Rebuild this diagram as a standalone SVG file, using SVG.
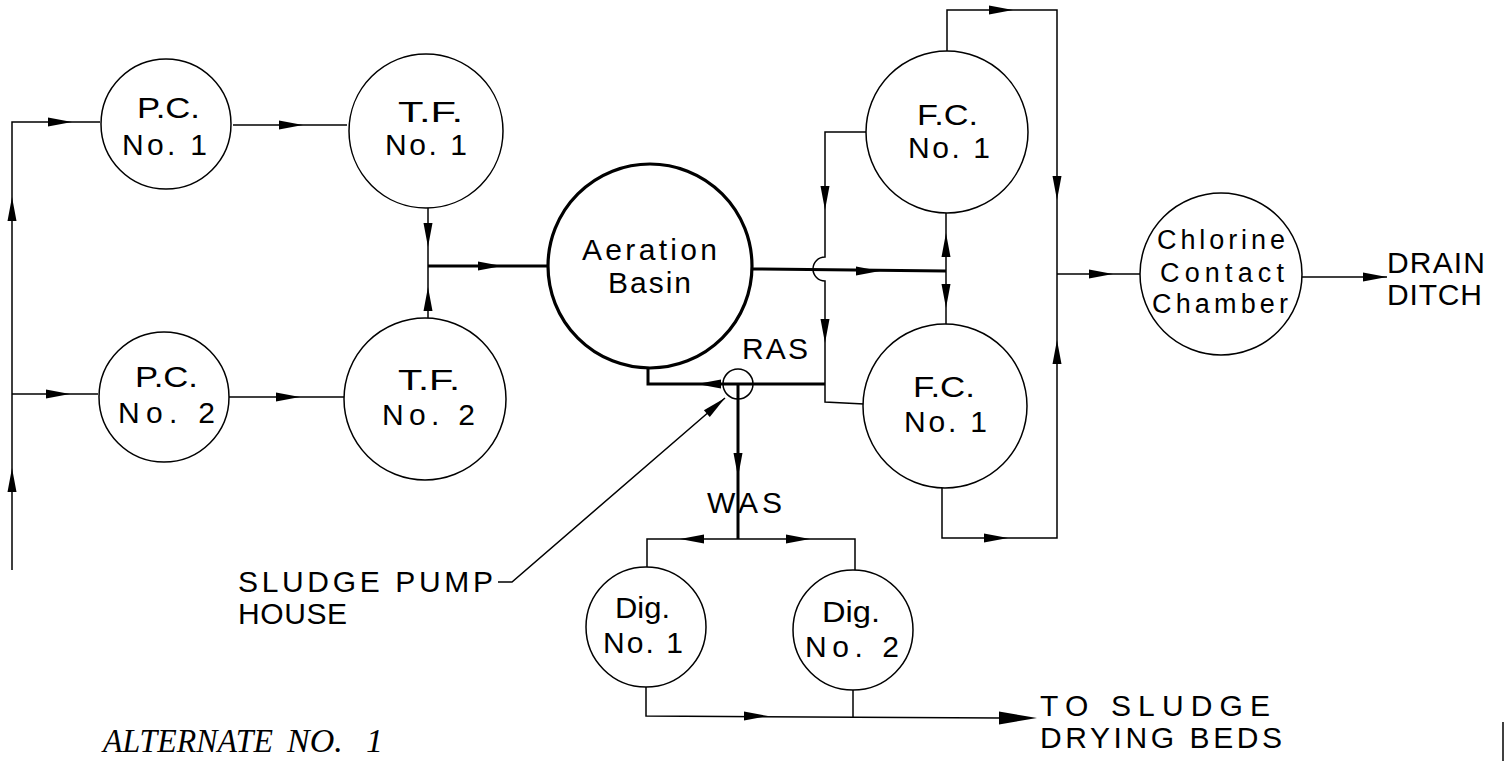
<svg xmlns="http://www.w3.org/2000/svg" xmlns:xlink="http://www.w3.org/1999/xlink" width="1505" height="761" viewBox="0 0 1505 761">
<style>
.ln{fill:none;stroke:#000;stroke-width:1.5;stroke-linejoin:miter}
.thk{stroke-width:3}
.nd{fill:#fff;stroke:#000;stroke-width:1.5}
.ndk{fill:#fff;stroke:#000;stroke-width:3.2}
.t{font-family:"Liberation Sans",Arial,sans-serif;font-size:30px;fill:#000}
.tc{font-family:"Liberation Sans",Arial,sans-serif;font-size:27px;fill:#000}
.ti{font-family:"Liberation Serif","Times New Roman",serif;font-style:italic;font-size:34px;fill:#000}
.ah{fill:#000;stroke:none}
</style>
<defs>
<path id="a" d="M0,0 L-24,-4.5 L-24,4.5 Z"/>
<path id="ab" d="M0,0 L-38,-6.5 L-38,6.5 Z"/>
</defs>
<rect width="1505" height="761" fill="#fff"/>
<g id="connectors">
<path class="ln" d="M12,570 L12,122 L100,122"/>
<path class="ln" d="M12,394 L98,394"/>
<path class="ln" d="M233,125 L347,125"/>
<path class="ln" d="M229,397 L344,397"/>
<path class="ln" d="M428,208 L428,318"/>
<path class="ln thk" d="M428,266 L548,266"/>
<path class="ln thk" d="M753,269 L946,271"/>
<path class="ln" d="M866,132 L825,132 L825,257 A12,12 0 0 0 825,281 L825,402 L864,404"/>
<path class="ln" d="M946,213 L946,325"/>
<path class="ln" d="M947,51 L947,10 L1057,10 L1057,538 L942,538 L942,488"/>
<path class="ln" d="M1057,274 L1140,274"/>
<path class="ln" d="M1302,277 L1387,277"/>
<path class="ln thk" d="M825,384 L648,384 L648,367"/>
<circle class="ln" cx="738" cy="384" r="15"/>
<path class="ln thk" d="M738,384 L738,539"/>
<path class="ln" d="M647,567 L647,539 L855,539 L855,570"/>
<path class="ln" d="M646,687 L646,716 L1000,718"/>
<path class="ln" d="M853,690 L853,717"/>
<path class="ln" d="M498,582 L512,582 L725,398"/>
<path class="ln" d="M1503,722 L1503,761"/>
<g class="ah">
<use xlink:href="#a" transform="translate(12,468) rotate(-90)"/>
<use xlink:href="#a" transform="translate(12,197) rotate(-90)"/>
<use xlink:href="#a" transform="translate(72,122)"/>
<use xlink:href="#a" transform="translate(70,394)"/>
<use xlink:href="#a" transform="translate(303,125)"/>
<use xlink:href="#a" transform="translate(300,397)"/>
<use xlink:href="#a" transform="translate(428,247) rotate(90)"/>
<use xlink:href="#a" transform="translate(428,287) rotate(-90)"/>
<use xlink:href="#a" transform="translate(502,266)"/>
<use xlink:href="#a" transform="translate(880,271)"/>
<use xlink:href="#a" transform="translate(825,210) rotate(90)"/>
<use xlink:href="#a" transform="translate(825,343) rotate(90)"/>
<use xlink:href="#a" transform="translate(946,233) rotate(-90)"/>
<use xlink:href="#a" transform="translate(946,308) rotate(90)"/>
<use xlink:href="#a" transform="translate(1013,10)"/>
<use xlink:href="#a" transform="translate(1057,200) rotate(90)"/>
<use xlink:href="#a" transform="translate(1008,538)"/>
<use xlink:href="#a" transform="translate(1057,340) rotate(-90)"/>
<use xlink:href="#a" transform="translate(1113,274)"/>
<use xlink:href="#a" transform="translate(1387,277)"/>
<use xlink:href="#a" transform="translate(697,384) rotate(180)"/>
<use xlink:href="#a" transform="translate(738,477) rotate(90)"/>
<use xlink:href="#a" transform="translate(680,539) rotate(180)"/>
<use xlink:href="#a" transform="translate(810,539)"/>
<use xlink:href="#a" transform="translate(768,716)"/>
<use xlink:href="#ab" transform="translate(1037,718)"/>
<use xlink:href="#a" transform="translate(725,398) rotate(-40.8)"/>
</g>
</g>
<g id="pc1">
<circle class="nd" cx="166" cy="124" r="65"/>
<text class="t" x="137" y="118" textLength="63" lengthAdjust="spacingAndGlyphs">P.C.</text>
<text class="t" x="122" y="155" textLength="85" lengthAdjust="spacing">No. 1</text>
</g>
<g id="tf1">
<circle class="nd" cx="426" cy="131" r="77"/>
<text class="t" x="398" y="122" textLength="65" lengthAdjust="spacingAndGlyphs">T.F.</text>
<text class="t" x="385" y="155" textLength="82" lengthAdjust="spacing">No. 1</text>
</g>
<g id="pc2">
<circle class="nd" cx="164" cy="397" r="65"/>
<text class="t" x="135" y="387" textLength="63" lengthAdjust="spacingAndGlyphs">P.C.</text>
<text class="t" x="118" y="423" textLength="97" lengthAdjust="spacing">No. 2</text>
</g>
<g id="tf2">
<circle class="nd" cx="425" cy="399" r="81"/>
<text class="t" x="398" y="390" textLength="62" lengthAdjust="spacingAndGlyphs">T.F.</text>
<text class="t" x="382" y="425" textLength="93" lengthAdjust="spacing">No. 2</text>
</g>
<g id="aeration">
<circle class="ndk" cx="650" cy="266" r="102"/>
<text class="t" x="582" y="260" textLength="135" lengthAdjust="spacing">Aeration</text>
<text class="t" x="608" y="293" textLength="83" lengthAdjust="spacing">Basin</text>
</g>
<g id="fc1">
<circle class="nd" cx="947" cy="132" r="81"/>
<text class="t" x="917" y="125" textLength="61" lengthAdjust="spacingAndGlyphs">F.C.</text>
<text class="t" x="908" y="158" textLength="82" lengthAdjust="spacing">No. 1</text>
</g>
<g id="fc2">
<circle class="nd" cx="945" cy="406" r="82"/>
<text class="t" x="913" y="397" textLength="62" lengthAdjust="spacingAndGlyphs">F.C.</text>
<text class="t" x="904" y="432" textLength="83" lengthAdjust="spacing">No. 1</text>
</g>
<g id="chlorine">
<circle class="nd" cx="1221" cy="274" r="81"/>
<text class="tc" x="1157" y="249" textLength="128" lengthAdjust="spacing">Chlorine</text>
<text class="tc" x="1160" y="282" textLength="124" lengthAdjust="spacing">Contact</text>
<text class="tc" x="1152" y="313" textLength="136" lengthAdjust="spacing">Chamber</text>
</g>
<g id="dig1">
<circle class="nd" cx="646" cy="627" r="60"/>
<text class="t" x="615" y="618" textLength="55" lengthAdjust="spacingAndGlyphs">Dig.</text>
<text class="t" x="603" y="653" textLength="80" lengthAdjust="spacing">No. 1</text>
</g>
<g id="dig2">
<circle class="nd" cx="853" cy="630" r="60"/>
<text class="t" x="822" y="622" textLength="58" lengthAdjust="spacingAndGlyphs">Dig.</text>
<text class="t" x="805" y="657" textLength="94" lengthAdjust="spacing">No. 2</text>
</g>
<g id="labels">
<text class="t" x="1387" y="273" textLength="98" lengthAdjust="spacing">DRAIN</text>
<text class="t" x="1387" y="305" textLength="95" lengthAdjust="spacing">DITCH</text>
<text class="t" x="742" y="359" textLength="66" lengthAdjust="spacing">RAS</text>
<text class="t" x="707" y="513" textLength="75" lengthAdjust="spacing">WAS</text>
<text class="t" x="238" y="592" textLength="255" lengthAdjust="spacing">SLUDGE PUMP</text>
<text class="t" x="238" y="624" textLength="109" lengthAdjust="spacing">HOUSE</text>
<text class="t" x="1040" y="716" textLength="230" lengthAdjust="spacing">TO SLUDGE</text>
<text class="t" x="1040" y="748" textLength="242" lengthAdjust="spacing">DRYING BEDS</text>
<text class="ti" x="103" y="752" textLength="170" lengthAdjust="spacingAndGlyphs">ALTERNATE</text>
<text class="ti" x="287" y="752">NO.</text>
<text class="ti" x="366" y="752">1</text>
</g>
</svg>
